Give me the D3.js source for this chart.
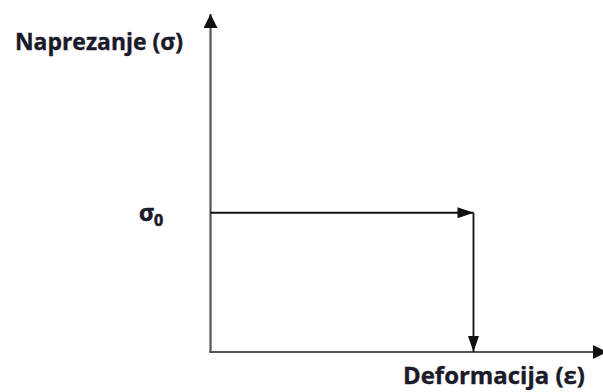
<!DOCTYPE html>
<html>
<head>
<meta charset="utf-8">
<script src="https://cdn.jsdelivr.net/npm/d3@7"></script>
<style>
  html, body { margin: 0; padding: 0; background: #fff; }
  svg { display: block; }
</style>
</head>
<body>
<div id="chart"></div>
<script>
// podaci dijagrama (normirane vrijednosti)
const sigma0 = [0.412];           // razina naprezanja sigma_0
const epsilon1 = [0.67];          // deformacija gdje naprezanje pada
const loadPath = [                // put opterecenja: vodoravno pa okomito dolje
  { e: 0, s: 0.412 },
  { e: 0.67, s: 0.412 }
];
const dropPath = [
  { e: 0.67, s: 0.412 },
  { e: 0.67, s: 0 }
];
const labels = ["Naprezanje (σ)", "Deformacija (ε)"];

const width = 603, height = 392;
const svg = d3.select("#chart").append("svg")
  .attr("width", width).attr("height", height);

const x = d3.scaleLinear().domain([0, 1]).range([210.5, 603]);
const y = d3.scaleLinear().domain([0, 1]).range([352, 14]);

const defs = svg.append("defs");
function marker(id, w, h, color) {
  defs.append("marker")
    .attr("id", id)
    .attr("viewBox", `0 0 ${w} ${h}`)
    .attr("refX", w).attr("refY", h / 2)
    .attr("markerWidth", w).attr("markerHeight", h)
    .attr("markerUnits", "userSpaceOnUse")
    .attr("orient", "auto")
    .append("path")
    .attr("d", `M0,0L${w},${h / 2}L0,${h}Z`)
    .attr("fill", color);
}
marker("axisArrow", 14, 14, "#111");
marker("pathArrow", 16, 11, "#111");

const axisColor = "#555";

// osi
svg.append("line")
  .attr("x1", x(0)).attr("x2", x(0))
  .attr("y1", y(0) + 1).attr("y2", y(1))
  .attr("stroke", axisColor).attr("stroke-width", 2.2)
  .attr("marker-end", "url(#axisArrow)");

svg.append("line")
  .attr("x1", x(0) - 1).attr("x2", x(1) + 4)
  .attr("y1", y(0)).attr("y2", y(0))
  .attr("stroke", axisColor).attr("stroke-width", 2.2)
  .attr("marker-end", "url(#axisArrow)");

const line = d3.line().x(d => x(d.e)).y(d => y(d.s));

svg.append("path")
  .datum(loadPath)
  .attr("d", line)
  .attr("fill", "none")
  .attr("stroke", "#111").attr("stroke-width", 1.8)
  .attr("marker-end", "url(#pathArrow)");

svg.append("path")
  .datum(dropPath)
  .attr("d", line)
  .attr("fill", "none")
  .attr("stroke", "#111").attr("stroke-width", 1.8)
  .attr("marker-end", "url(#pathArrow)");

// tekst
const font = "'Open Sans', 'DejaVu Sans', sans-serif";
const ink = "#1a1a2a";
function fit(sel, target) {
  const w = sel.node().getComputedTextLength();
  const fs = parseFloat(sel.attr("font-size"));
  sel.attr("font-size", fs * target / w);
}

const yLabel = svg.append("text")
  .attr("x", 15).attr("y", 50)
  .attr("font-family", font).attr("font-weight", "bold")
  .attr("font-size", 18).attr("fill", ink)
  .attr("stroke", ink).attr("stroke-width", 0.4)
  .text(labels[0]);
fit(yLabel, 168);

const xLabel = svg.append("text")
  .attr("x", 403).attr("y", 384)
  .attr("font-family", font).attr("font-weight", "bold")
  .attr("font-size", 18).attr("fill", ink)
  .attr("stroke", ink).attr("stroke-width", 0.4)
  .text(labels[1]);
fit(xLabel, 182);

const s0 = svg.append("text")
  .attr("x", 139).attr("y", y(sigma0[0]) + 8)
  .attr("font-family", font).attr("font-weight", "bold")
  .attr("font-size", 23).attr("fill", ink)
  .attr("stroke", ink).attr("stroke-width", 0.6);
s0.append("tspan").text("σ");
s0.append("tspan").attr("font-size", 16).attr("dy", 5).text("0");
</script>
</body>
</html>
